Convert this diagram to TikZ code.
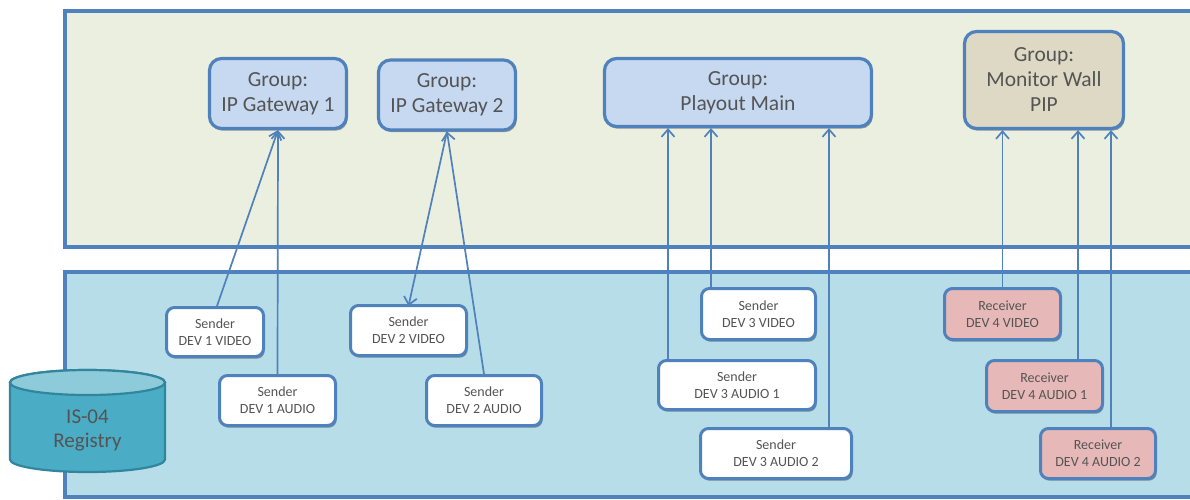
\documentclass[tikz,border=0pt]{standalone}
\usepackage{fontspec}
\setmainfont{Carlito}
\usetikzlibrary{arrows.meta,shadows}
\definecolor{edge}{HTML}{4F81BD}
\definecolor{txt}{HTML}{545454}
\definecolor{toppanel}{HTML}{EBEFDF}
\definecolor{botpanel}{HTML}{B7DDE8}
\definecolor{groupfill}{HTML}{C6D9F1}
\definecolor{wallfill}{HTML}{DDD9C4}
\definecolor{recvfill}{HTML}{E6B9B8}
\definecolor{cylbody}{HTML}{4BACC6}
\definecolor{cyltop}{HTML}{8DCADA}
\definecolor{cyledge}{HTML}{31859C}
\tikzset{
  softshadow/.style={drop shadow={shadow xshift=1.2pt,shadow yshift=-2.2pt,opacity=0.35,fill=black}},
  panel/.style={draw=edge,line width=3.6pt,softshadow},
  groupbox/.style={draw=edge,line width=3.2pt,rounded corners=12pt,fill=groupfill,
    text=txt,align=center,font=\fontsize{21.5}{25}\selectfont,softshadow,inner sep=0pt},
  devbox/.style={draw=edge,line width=3pt,rounded corners=8pt,fill=white,
    text=txt,align=center,font=\fontsize{14}{17}\selectfont,softshadow,inner sep=0pt},
  recvbox/.style={devbox,fill=recvfill},
  arr/.style={draw=edge,line width=1.7pt,-{Straight Barb[length=7.5pt,width=13pt,line width=1.7pt]}},
}
\begin{document}
\begin{tikzpicture}[x=1pt,y=-1pt]
\clip (0,0) rectangle (1190,499);
\fill[white] (0,0) rectangle (1190,499);

% two layers
\path[panel,fill=toppanel] (65,11) rectangle (1220,247);
\path[panel,fill=botpanel] (65,272) rectangle (1220,497);

% registry cylinder
\filldraw[fill=cylbody,draw=cyledge,line width=2.2pt]
  (10,382.5) -- (10,459.5)
  arc[start angle=180,end angle=360,x radius=77.5pt,y radius=12.5pt]
  -- (165,382.5)
  arc[start angle=0,end angle=180,x radius=77.5pt,y radius=12.5pt] -- cycle;
\filldraw[fill=cyltop,draw=cyledge,line width=2.2pt]
  (87.5,382.5) ellipse[x radius=77.5pt,y radius=12.5pt];
\node[text=txt,align=center,font=\fontsize{21}{24}\selectfont] (reg) at (87.5,430) {IS-04\\Registry};

% groups
\node[groupbox,minimum width=137pt,minimum height=70pt] (g1) at (278,93.5) {Group:\\IP Gateway 1};
\node[groupbox,minimum width=137pt,minimum height=70pt] (g2) at (447,95) {Group:\\IP Gateway 2};
\node[groupbox,minimum width=267pt,minimum height=68pt] (pm) at (738,92.5) {Group:\\Playout Main};
\node[groupbox,fill=wallfill,minimum width=159pt,minimum height=97pt] (mw) at (1044,80) {Group:\\Monitor Wall\\PIP};

% senders and receivers
\node[devbox,minimum width=97pt,minimum height=49pt] (s1v) at (215,332) {Sender\\DEV 1 VIDEO};
\node[devbox,minimum width=116pt,minimum height=50pt] (s1a) at (277.5,400.5) {Sender\\DEV 1 AUDIO};
\node[devbox,minimum width=116pt,minimum height=50pt] (s2v) at (408.5,330.5) {Sender\\DEV 2 VIDEO};
\node[devbox,minimum width=115pt,minimum height=50pt] (s2a) at (484,400.5) {Sender\\DEV 2 AUDIO};
\node[devbox,minimum width=114pt,minimum height=51pt] (s3v) at (758.5,314) {Sender\\DEV 3 VIDEO};
\node[devbox,minimum width=157pt,minimum height=49pt] (s3a1) at (737,385) {Sender\\DEV 3 AUDIO 1};
\node[devbox,minimum width=151pt,minimum height=50pt] (s3a2) at (776,453.5) {Sender\\DEV 3 AUDIO 2};
\node[recvbox,minimum width=116pt,minimum height=51pt] (r4v) at (1002.5,314) {Receiver\\DEV 4 VIDEO};
\node[recvbox,minimum width=116pt,minimum height=51pt] (r4a1) at (1044.5,386) {Receiver\\DEV 4 AUDIO 1};
\node[recvbox,minimum width=115pt,minimum height=50pt] (r4a2) at (1098,453.5) {Receiver\\DEV 4 AUDIO 2};

% connector end points on the lower boxes
\coordinate (c3v) at ([xshift=11pt]s3v.north west);
\coordinate (c3a1) at ([xshift=11pt]s3a1.north west);
\coordinate (c3a2) at ([xshift=-24pt]s3a2.north east);
\coordinate (c4a1) at ([xshift=-26pt]r4a1.north east);
\coordinate (c4a2) at ([xshift=72pt]r4a2.north west);

% membership links
\draw[arr] ([xshift=2pt]s1v.north) -- (g1.south);
\draw[arr] (s1a.north) -- (g1.south);
\draw[arr] (g2.south) -- ([yshift=-2pt]s2v.north);
\draw[arr] (s2a.north) -- (g2.south);
\draw[arr] (c3a1) -- (c3a1 |- pm.south);
\draw[arr] (c3v) -- (c3v |- pm.south);
\draw[arr] (c3a2) -- (c3a2 |- pm.south);
\draw[arr] (r4v.north) -- (r4v.north |- mw.south);
\draw[arr] (c4a1) -- (c4a1 |- mw.south);
\draw[arr] (c4a2) -- (c4a2 |- mw.south);
\end{tikzpicture}
\end{document}
